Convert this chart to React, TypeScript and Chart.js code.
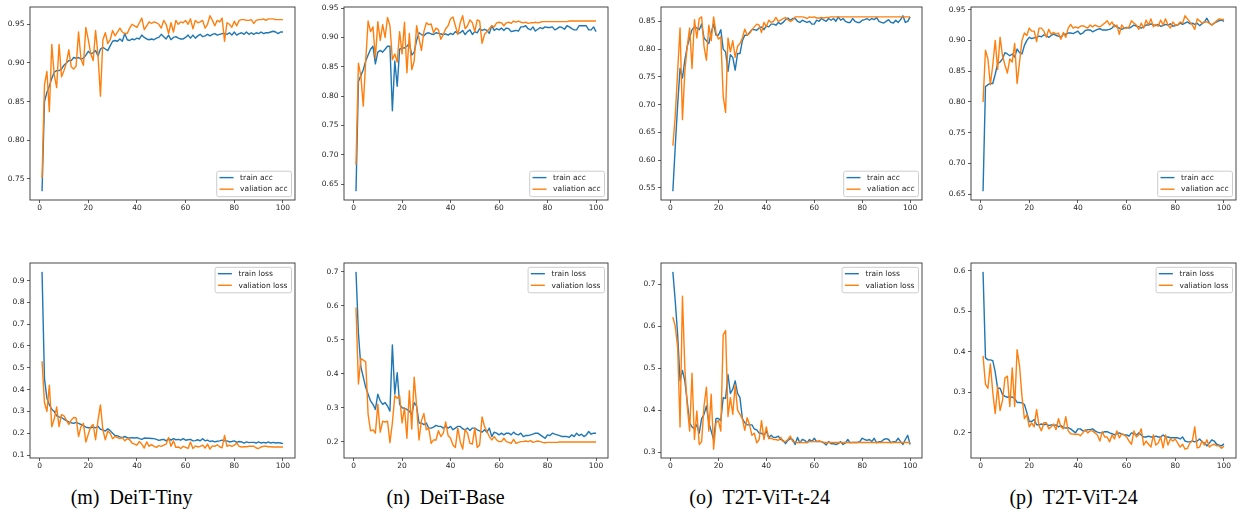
import React, { useEffect, useRef } from "react";
import { Chart, registerables } from "chart.js";

Chart.register(...registerables);

// ---------------- DATA ----------------
const epochs: number[] = Array.from({ length: 100 }, (_, i) => i + 1);

const trainAccLabel = "train acc";
const valAccLabel = "valiation acc";
const trainLossLabel = "train loss";
const valLossLabel = "valiation loss";

const captionTags = ["(m)", "(n)", "(o)", "(p)"];
const captionNames = ["DeiT-Tiny", "DeiT-Base", "T2T-ViT-t-24", "T2T-ViT-24"];

// (m) DeiT-Tiny
const tinyTrainAcc = [
  0.734, 0.850, 0.862, 0.870, 0.880, 0.888, 0.890, 0.890, 0.892, 0.897,
  0.900, 0.903, 0.903, 0.907, 0.906, 0.907, 0.905, 0.906, 0.910, 0.915,
  0.912, 0.913, 0.916, 0.909, 0.918, 0.920, 0.918, 0.916, 0.922, 0.928,
  0.929, 0.928, 0.931, 0.928, 0.938, 0.930, 0.929, 0.931, 0.930, 0.932,
  0.931, 0.936, 0.933, 0.931, 0.930, 0.931, 0.930, 0.932, 0.933, 0.937,
  0.934, 0.931, 0.936, 0.930, 0.933, 0.934, 0.932, 0.931, 0.931, 0.933,
  0.936, 0.932, 0.936, 0.932, 0.935, 0.937, 0.934, 0.935, 0.937, 0.935,
  0.937, 0.938, 0.936, 0.937, 0.938, 0.938, 0.937, 0.939, 0.936, 0.940,
  0.936, 0.938, 0.939, 0.937, 0.940, 0.937, 0.939, 0.937, 0.939, 0.938,
  0.940, 0.938, 0.939, 0.939, 0.940, 0.941, 0.940, 0.938, 0.940, 0.940,
];
const tinyValAcc = [
  0.751, 0.872, 0.889, 0.837, 0.924, 0.885, 0.868, 0.924, 0.882, 0.890,
  0.900, 0.917, 0.895, 0.892, 0.896, 0.940, 0.905, 0.897, 0.946, 0.930,
  0.912, 0.903, 0.942, 0.910, 0.857, 0.930, 0.939, 0.925, 0.930, 0.942,
  0.935, 0.940, 0.945, 0.940, 0.938, 0.938, 0.945, 0.950, 0.948, 0.946,
  0.952, 0.958, 0.943, 0.948, 0.953, 0.951, 0.953, 0.952, 0.950, 0.945,
  0.955, 0.950, 0.938, 0.952, 0.940, 0.955, 0.950, 0.953, 0.952, 0.955,
  0.950, 0.957, 0.944, 0.955, 0.952, 0.953, 0.955, 0.945, 0.950, 0.961,
  0.955, 0.948, 0.955, 0.953, 0.958, 0.928, 0.952, 0.950, 0.946, 0.954,
  0.948, 0.955, 0.956, 0.956, 0.955, 0.955, 0.956, 0.951, 0.955, 0.956,
  0.956, 0.957, 0.955, 0.957, 0.957, 0.957, 0.956, 0.956, 0.956, 0.956,
];
const tinyTrainLoss = [
  0.940, 0.450, 0.360, 0.330, 0.310, 0.300, 0.280, 0.275, 0.272, 0.265,
  0.258, 0.252, 0.248, 0.245, 0.250, 0.245, 0.240, 0.235, 0.228, 0.225,
  0.225, 0.228, 0.225, 0.232, 0.218, 0.215, 0.210, 0.220, 0.212, 0.200,
  0.190, 0.188, 0.183, 0.180, 0.185, 0.180, 0.178, 0.180, 0.178, 0.180,
  0.175, 0.172, 0.178, 0.177, 0.177, 0.176, 0.175, 0.172, 0.167, 0.170,
  0.172, 0.165, 0.175, 0.168, 0.175, 0.170, 0.172, 0.168, 0.175, 0.168,
  0.170, 0.172, 0.165, 0.166, 0.170, 0.165, 0.175, 0.165, 0.168, 0.162,
  0.165, 0.160, 0.163, 0.165, 0.168, 0.165, 0.165, 0.160, 0.162, 0.165,
  0.158, 0.162, 0.160, 0.155, 0.160, 0.157, 0.158, 0.158, 0.155, 0.160,
  0.155, 0.158, 0.155, 0.160, 0.155, 0.158, 0.155, 0.157, 0.155, 0.152,
];
const tinyValLoss = [
  0.530, 0.340, 0.300, 0.420, 0.230, 0.265, 0.320, 0.230, 0.285, 0.280,
  0.260, 0.240, 0.260, 0.272, 0.270, 0.185, 0.230, 0.245, 0.160, 0.195,
  0.230, 0.240, 0.170, 0.260, 0.330, 0.215, 0.170, 0.210, 0.200, 0.175,
  0.185, 0.180, 0.175, 0.180, 0.165, 0.175, 0.170, 0.155, 0.150, 0.145,
  0.162, 0.150, 0.132, 0.160, 0.140, 0.148, 0.140, 0.135, 0.143, 0.140,
  0.145, 0.150, 0.180, 0.140, 0.165, 0.135, 0.137, 0.130, 0.140, 0.135,
  0.130, 0.160, 0.130, 0.142, 0.137, 0.140, 0.145, 0.132, 0.150, 0.127,
  0.142, 0.140, 0.147, 0.138, 0.133, 0.190, 0.140, 0.145, 0.140, 0.145,
  0.155, 0.140, 0.137, 0.138, 0.138, 0.140, 0.140, 0.140, 0.132, 0.130,
  0.137, 0.140, 0.140, 0.138, 0.138, 0.137, 0.137, 0.137, 0.137, 0.137,
];

// (n) DeiT-Base
const baseTrainAcc = [
  0.638, 0.825, 0.835, 0.845, 0.860, 0.870, 0.880, 0.885, 0.855, 0.875,
  0.878, 0.875, 0.880, 0.885, 0.885, 0.775, 0.860, 0.817, 0.880, 0.882,
  0.882, 0.885, 0.890, 0.870, 0.875, 0.895, 0.908, 0.905, 0.903, 0.907,
  0.908, 0.906, 0.905, 0.908, 0.907, 0.906, 0.905, 0.906, 0.904, 0.907,
  0.905, 0.910, 0.907, 0.908, 0.912, 0.905, 0.910, 0.913, 0.905, 0.910,
  0.908, 0.915, 0.912, 0.914, 0.912, 0.907, 0.920, 0.912, 0.915, 0.913,
  0.916, 0.912, 0.916, 0.915, 0.910, 0.911, 0.912, 0.911, 0.918, 0.918,
  0.920, 0.915, 0.913, 0.918, 0.911, 0.914, 0.917, 0.915, 0.918, 0.917,
  0.917, 0.918, 0.913, 0.915, 0.918, 0.917, 0.914, 0.920, 0.918, 0.915,
  0.913, 0.913, 0.920, 0.920, 0.920, 0.920, 0.913, 0.913, 0.918, 0.910,
];
const baseValAcc = [
  0.683, 0.856, 0.835, 0.783, 0.860, 0.928, 0.910, 0.918, 0.865, 0.927,
  0.895, 0.922, 0.900, 0.934, 0.920, 0.862, 0.872, 0.858, 0.910, 0.872,
  0.926, 0.840, 0.907, 0.845, 0.860, 0.920, 0.898, 0.878, 0.910, 0.925,
  0.922, 0.923, 0.908, 0.916, 0.913, 0.897, 0.905, 0.915, 0.920, 0.932,
  0.935, 0.920, 0.905, 0.925, 0.937, 0.915, 0.920, 0.930, 0.925, 0.910,
  0.930, 0.928, 0.890, 0.905, 0.910, 0.915, 0.920, 0.918, 0.925, 0.926,
  0.925, 0.920, 0.925, 0.926, 0.924, 0.928, 0.926, 0.928, 0.926, 0.925,
  0.926, 0.924, 0.925, 0.925, 0.926, 0.925, 0.926, 0.927, 0.927, 0.927,
  0.927, 0.927, 0.927, 0.927, 0.927, 0.927, 0.927, 0.927, 0.928, 0.928,
  0.928, 0.928, 0.928, 0.928, 0.928, 0.928, 0.928, 0.928, 0.928, 0.928,
];
const baseTrainLoss = [
  0.700, 0.520, 0.420, 0.390, 0.360, 0.340, 0.320, 0.310, 0.295, 0.340,
  0.320, 0.310, 0.315, 0.305, 0.290, 0.485, 0.340, 0.403, 0.310, 0.300,
  0.298, 0.295, 0.290, 0.280, 0.315, 0.305, 0.255, 0.255, 0.250, 0.255,
  0.240, 0.240, 0.243, 0.248, 0.245, 0.245, 0.240, 0.245, 0.240, 0.245,
  0.235, 0.240, 0.245, 0.245, 0.238, 0.235, 0.240, 0.233, 0.240, 0.240,
  0.235, 0.232, 0.228, 0.235, 0.228, 0.240, 0.215, 0.228, 0.225, 0.220,
  0.225, 0.220, 0.225, 0.225, 0.220, 0.228, 0.222, 0.220, 0.225, 0.215,
  0.218, 0.218, 0.220, 0.222, 0.225, 0.225, 0.220, 0.215, 0.210, 0.220,
  0.218, 0.225, 0.222, 0.220, 0.218, 0.215, 0.215, 0.215, 0.213, 0.220,
  0.215, 0.225, 0.218, 0.222, 0.215, 0.220, 0.230, 0.222, 0.225, 0.225,
];
const baseValLoss = [
  0.595, 0.370, 0.445, 0.440, 0.435, 0.280, 0.232, 0.235, 0.225, 0.310,
  0.228, 0.260, 0.258, 0.260, 0.197, 0.255, 0.335, 0.328, 0.335, 0.255,
  0.300, 0.210, 0.350, 0.237, 0.390, 0.305, 0.205, 0.262, 0.283, 0.235,
  0.240, 0.195, 0.205, 0.205, 0.232, 0.215, 0.225, 0.258, 0.218, 0.210,
  0.190, 0.183, 0.240, 0.200, 0.178, 0.235, 0.225, 0.195, 0.193, 0.240,
  0.183, 0.190, 0.273, 0.245, 0.230, 0.215, 0.205, 0.215, 0.205, 0.200,
  0.200, 0.210, 0.200, 0.198, 0.195, 0.207, 0.195, 0.198, 0.200, 0.200,
  0.202, 0.200, 0.203, 0.198, 0.200, 0.202, 0.200, 0.198, 0.197, 0.198,
  0.198, 0.198, 0.198, 0.198, 0.199, 0.199, 0.199, 0.199, 0.199, 0.199,
  0.199, 0.199, 0.199, 0.199, 0.199, 0.199, 0.199, 0.199, 0.199, 0.199,
];

// (o) T2T-ViT-t-24
const t2ttTrainAcc = [
  0.544, 0.625, 0.700, 0.765, 0.748, 0.780, 0.805, 0.820, 0.835, 0.840,
  0.838, 0.835, 0.845, 0.820, 0.815, 0.810, 0.830, 0.845, 0.825, 0.825,
  0.835, 0.800, 0.795, 0.760, 0.790, 0.785, 0.762, 0.792, 0.792, 0.815,
  0.825, 0.825, 0.830, 0.835, 0.835, 0.834, 0.838, 0.840, 0.835, 0.842,
  0.840, 0.845, 0.845, 0.843, 0.848, 0.845, 0.848, 0.853, 0.856, 0.852,
  0.855, 0.855, 0.850, 0.848, 0.852, 0.850, 0.848, 0.850, 0.845, 0.845,
  0.852, 0.850, 0.855, 0.852, 0.850, 0.855, 0.852, 0.855, 0.850, 0.858,
  0.852, 0.855, 0.850, 0.848, 0.848, 0.855, 0.850, 0.848, 0.848, 0.852,
  0.853, 0.855, 0.852, 0.855, 0.853, 0.857, 0.850, 0.848, 0.847, 0.850,
  0.853, 0.848, 0.847, 0.852, 0.848, 0.853, 0.860, 0.848, 0.850, 0.858,
];
const t2ttValAcc = [
  0.626, 0.680, 0.760, 0.838, 0.673, 0.760, 0.805, 0.838, 0.765, 0.853,
  0.820, 0.855, 0.858, 0.805, 0.780, 0.843, 0.815, 0.858, 0.830, 0.818,
  0.822, 0.715, 0.686, 0.820, 0.795, 0.815, 0.785, 0.805, 0.810, 0.820,
  0.836, 0.825, 0.828, 0.835, 0.840, 0.845, 0.843, 0.830, 0.848, 0.840,
  0.852, 0.848, 0.850, 0.857, 0.850, 0.852, 0.855, 0.857, 0.853, 0.850,
  0.852, 0.858, 0.858, 0.858, 0.858, 0.857, 0.855, 0.858, 0.857, 0.858,
  0.856, 0.856, 0.857, 0.856, 0.857, 0.857, 0.858, 0.858, 0.858, 0.858,
  0.858, 0.858, 0.858, 0.858, 0.858, 0.858, 0.858, 0.858, 0.858, 0.858,
  0.858, 0.858, 0.858, 0.858, 0.858, 0.858, 0.858, 0.858, 0.858, 0.858,
  0.858, 0.858, 0.858, 0.858, 0.858, 0.858, 0.858, 0.858, 0.858, 0.858,
];
const t2ttTrainLoss = [
  0.730, 0.660, 0.580, 0.470, 0.495, 0.470, 0.420, 0.370, 0.360, 0.355,
  0.365, 0.345, 0.380, 0.390, 0.410, 0.370, 0.350, 0.330, 0.380, 0.380,
  0.375, 0.430, 0.428, 0.485, 0.440, 0.450, 0.470, 0.440, 0.430, 0.380,
  0.370, 0.365, 0.365, 0.365, 0.355, 0.353, 0.345, 0.345, 0.340, 0.350,
  0.335, 0.340, 0.335, 0.335, 0.338, 0.330, 0.328, 0.320, 0.328, 0.332,
  0.330, 0.318, 0.335, 0.322, 0.330, 0.328, 0.322, 0.330, 0.325, 0.333,
  0.325, 0.325, 0.325, 0.322, 0.317, 0.325, 0.320, 0.320, 0.318, 0.320,
  0.325, 0.318, 0.322, 0.330, 0.322, 0.323, 0.323, 0.323, 0.325, 0.333,
  0.330, 0.328, 0.330, 0.325, 0.333, 0.322, 0.325, 0.325, 0.330, 0.332,
  0.330, 0.322, 0.325, 0.325, 0.333, 0.325, 0.318, 0.330, 0.340, 0.318,
];
const t2ttValLoss = [
  0.622, 0.600, 0.550, 0.360, 0.672, 0.500, 0.410, 0.350, 0.488, 0.330,
  0.398, 0.318, 0.325, 0.410, 0.455, 0.350, 0.438, 0.307, 0.370, 0.375,
  0.350, 0.580, 0.590, 0.385, 0.430, 0.390, 0.460, 0.400, 0.390, 0.380,
  0.352, 0.382, 0.365, 0.340, 0.345, 0.322, 0.330, 0.375, 0.330, 0.360,
  0.332, 0.333, 0.330, 0.330, 0.328, 0.335, 0.325, 0.325, 0.330, 0.338,
  0.325, 0.325, 0.322, 0.325, 0.322, 0.323, 0.323, 0.325, 0.325, 0.325,
  0.325, 0.327, 0.325, 0.323, 0.323, 0.323, 0.323, 0.323, 0.323, 0.323,
  0.323, 0.323, 0.323, 0.323, 0.323, 0.323, 0.323, 0.323, 0.323, 0.323,
  0.323, 0.323, 0.323, 0.323, 0.323, 0.323, 0.323, 0.323, 0.323, 0.323,
  0.323, 0.323, 0.323, 0.323, 0.323, 0.323, 0.323, 0.323, 0.323, 0.323,
];

// (p) T2T-ViT-24
const t2tTrainAcc = [
  0.655, 0.825, 0.828, 0.830, 0.830, 0.845, 0.862, 0.865, 0.870, 0.880,
  0.878, 0.875, 0.878, 0.873, 0.886, 0.880, 0.878, 0.892, 0.900, 0.905,
  0.903, 0.904, 0.905, 0.907, 0.906, 0.909, 0.908, 0.905, 0.908, 0.910,
  0.908, 0.907, 0.905, 0.910, 0.910, 0.912, 0.912, 0.911, 0.913, 0.915,
  0.910, 0.912, 0.916, 0.917, 0.917, 0.914, 0.916, 0.918, 0.919, 0.917,
  0.917, 0.917, 0.918, 0.920, 0.925, 0.922, 0.920, 0.918, 0.920, 0.921,
  0.920, 0.922, 0.925, 0.923, 0.922, 0.920, 0.922, 0.925, 0.925, 0.927,
  0.925, 0.924, 0.926, 0.923, 0.924, 0.926, 0.925, 0.927, 0.923, 0.924,
  0.925, 0.928, 0.926, 0.928, 0.930, 0.927, 0.928, 0.926, 0.928, 0.924,
  0.927, 0.930, 0.936, 0.928, 0.925, 0.928, 0.930, 0.932, 0.933, 0.931,
];
const t2tValAcc = [
  0.800, 0.884, 0.870, 0.828, 0.860, 0.900, 0.853, 0.905, 0.875, 0.860,
  0.847, 0.870, 0.865, 0.895, 0.830, 0.865, 0.900, 0.912, 0.908, 0.920,
  0.915, 0.915, 0.898, 0.920, 0.920, 0.915, 0.905, 0.918, 0.910, 0.913,
  0.910, 0.912, 0.902, 0.913, 0.905, 0.920, 0.926, 0.920, 0.922, 0.920,
  0.923, 0.924, 0.922, 0.920, 0.925, 0.922, 0.925, 0.923, 0.922, 0.925,
  0.928, 0.932, 0.925, 0.930, 0.922, 0.925, 0.910, 0.925, 0.920, 0.920,
  0.922, 0.932, 0.928, 0.925, 0.918, 0.928, 0.920, 0.933, 0.925, 0.935,
  0.922, 0.926, 0.923, 0.933, 0.925, 0.935, 0.925, 0.920, 0.930, 0.925,
  0.925, 0.930, 0.928, 0.940, 0.935, 0.930, 0.925, 0.918, 0.935, 0.932,
  0.928, 0.930, 0.930, 0.928, 0.925, 0.928, 0.932, 0.935, 0.934, 0.934,
];
const t2tTrainLoss = [
  0.597, 0.385, 0.380, 0.380, 0.378, 0.350, 0.310, 0.310, 0.295, 0.290,
  0.288, 0.290, 0.288, 0.285, 0.275, 0.275, 0.274, 0.270, 0.250, 0.228,
  0.228, 0.233, 0.220, 0.220, 0.222, 0.220, 0.222, 0.218, 0.220, 0.218,
  0.220, 0.215, 0.218, 0.213, 0.212, 0.213, 0.210, 0.205, 0.200, 0.210,
  0.210, 0.205, 0.205, 0.208, 0.208, 0.210, 0.205, 0.202, 0.200, 0.200,
  0.203, 0.203, 0.200, 0.198, 0.195, 0.198, 0.200, 0.197, 0.195, 0.195,
  0.192, 0.200, 0.198, 0.195, 0.200, 0.195, 0.190, 0.190, 0.192, 0.190,
  0.190, 0.192, 0.190, 0.190, 0.195, 0.190, 0.190, 0.188, 0.188, 0.188,
  0.188, 0.185, 0.190, 0.180, 0.178, 0.178, 0.180, 0.178, 0.180, 0.185,
  0.178, 0.175, 0.168, 0.175, 0.183, 0.180, 0.172, 0.170, 0.168, 0.173,
];
const t2tValLoss = [
  0.390, 0.320, 0.310, 0.370, 0.300, 0.248, 0.315, 0.255, 0.280, 0.335,
  0.340, 0.265, 0.360, 0.265, 0.405, 0.365, 0.290, 0.235, 0.245, 0.215,
  0.225, 0.215, 0.258, 0.218, 0.205, 0.225, 0.225, 0.210, 0.215, 0.222,
  0.208, 0.235, 0.215, 0.210, 0.240, 0.205, 0.198, 0.197, 0.196, 0.197,
  0.193, 0.200, 0.208, 0.200, 0.205, 0.205, 0.200, 0.195, 0.180, 0.203,
  0.190, 0.190, 0.178, 0.195, 0.185, 0.205, 0.188, 0.198, 0.195, 0.190,
  0.180, 0.172, 0.205, 0.190, 0.195, 0.210, 0.170, 0.180, 0.172, 0.165,
  0.195, 0.170, 0.175, 0.190, 0.163, 0.195, 0.170, 0.185, 0.180, 0.185,
  0.175, 0.165, 0.172, 0.160, 0.162, 0.175, 0.180, 0.215, 0.163, 0.165,
  0.180, 0.170, 0.183, 0.165, 0.170, 0.172, 0.168, 0.168, 0.162, 0.168,
];

// ---------------- STYLE / LAYOUT ----------------
const BLUE = "#1f77b4";
const ORANGE = "#ff7f0e";
const TEXT = "#262626";
const FONT_FAMILY = "'DejaVu Sans', sans-serif";
const FONT_SIZE = 7.5;
const LINE_W = 1.4;

const PAD_L = 30;
const PAD_T = 4;
const PAD_R = 4;
const PAD_B = 18;

const colBoxes = [
  { left: 30, width: 265 },
  { left: 344, width: 264 },
  { left: 661, width: 261 },
  { left: 971, width: 265 },
];
const rowBoxes = [
  { top: 4, height: 196 },
  { top: 260, height: 198 },
];
const captionCenters = [131.6, 445.6, 759.6, 1073.6];

type Kind = "acc" | "loss";

const framePlugin = {
  id: "frameBox",
  afterDatasetsDraw(chart: any) {
    const a = chart.chartArea;
    const ctx = chart.ctx;
    ctx.save();
    ctx.strokeStyle = "#333333";
    ctx.lineWidth = 0.9;
    ctx.strokeRect(a.left, a.top, a.right - a.left, a.bottom - a.top);
    ctx.restore();
  },
};

const legendPlugin = {
  id: "boxLegend",
  afterDraw(chart: any, _args: any, opts: any) {
    const a = chart.chartArea;
    const ctx = chart.ctx;
    const items = chart.data.datasets.map((d: any) => ({ label: d.label, color: d.borderColor }));
    ctx.save();
    ctx.font = `${FONT_SIZE}px ${FONT_FAMILY}`;
    const textW = Math.max(...items.map((it: any) => ctx.measureText(it.label).width));
    const bw = 23.4 + textW + 4;
    const bh = 25.5;
    const bx = a.right - 3.5 - bw;
    const by = opts.corner === "lower" ? a.bottom - 3.3 - bh : a.top + 4.3;
    const r = 2;
    ctx.beginPath();
    ctx.moveTo(bx + r, by);
    ctx.lineTo(bx + bw - r, by);
    ctx.quadraticCurveTo(bx + bw, by, bx + bw, by + r);
    ctx.lineTo(bx + bw, by + bh - r);
    ctx.quadraticCurveTo(bx + bw, by + bh, bx + bw - r, by + bh);
    ctx.lineTo(bx + r, by + bh);
    ctx.quadraticCurveTo(bx, by + bh, bx, by + bh - r);
    ctx.lineTo(bx, by + r);
    ctx.quadraticCurveTo(bx, by, bx + r, by);
    ctx.closePath();
    ctx.fillStyle = "rgba(255,255,255,0.8)";
    ctx.fill();
    ctx.strokeStyle = "#cccccc";
    ctx.lineWidth = 1;
    ctx.stroke();
    items.forEach((it: any, k: number) => {
      const y = by + 6.4 + k * 11.6;
      ctx.beginPath();
      ctx.moveTo(bx + 2.8, y);
      ctx.lineTo(bx + 16.8, y);
      ctx.strokeStyle = it.color;
      ctx.lineWidth = LINE_W;
      ctx.stroke();
      ctx.fillStyle = TEXT;
      ctx.textBaseline = "middle";
      ctx.textAlign = "left";
      ctx.fillText(it.label, bx + 23.4, y + 0.3);
    });
    ctx.restore();
  },
};

function Panel(props: {
  col: number;
  row: number;
  train: number[];
  val: number[];
  kind: Kind;
}) {
  const ref = useRef<HTMLCanvasElement | null>(null);
  const { col, row, train, val, kind } = props;
  const box = { ...colBoxes[col], ...rowBoxes[row] };
  const cw = box.width + PAD_L + PAD_R;
  const ch = box.height + PAD_T + PAD_B;

  useEffect(() => {
    if (!ref.current) return;
    const all = train.concat(val);
    const lo = Math.min(...all);
    const hi = Math.max(...all);
    const m = (hi - lo) * 0.05;
    const x0 = epochs[0];
    const x1 = epochs[epochs.length - 1];
    const xm = (x1 - x0) * 0.05;
    const tickFont = { family: FONT_FAMILY, size: FONT_SIZE };
    const chart = new Chart(ref.current, {
      type: "line",
      data: {
        datasets: [
          {
            label: kind === "acc" ? trainAccLabel : trainLossLabel,
            data: epochs.map((x, i) => ({ x, y: train[i] })),
            borderColor: BLUE,
            backgroundColor: BLUE,
            borderWidth: LINE_W,
            pointRadius: 0,
            tension: 0,
            borderJoinStyle: "round",
            order: 1,
          },
          {
            label: kind === "acc" ? valAccLabel : valLossLabel,
            data: epochs.map((x, i) => ({ x, y: val[i] })),
            borderColor: ORANGE,
            backgroundColor: ORANGE,
            borderWidth: LINE_W,
            pointRadius: 0,
            tension: 0,
            borderJoinStyle: "round",
            order: 0,
          },
        ],
      },
      options: {
        responsive: false,
        animation: false,
        devicePixelRatio: 1,
        events: [],
        layout: { padding: { top: PAD_T, right: PAD_R, left: 0, bottom: 0 } },
        plugins: {
          legend: { display: false },
          tooltip: { enabled: false },
          title: { display: false },
          boxLegend: { corner: kind === "acc" ? "lower" : "upper" },
        } as any,
        scales: {
          x: {
            type: "linear",
            min: x0 - xm,
            max: x1 + xm,
            afterFit: (s: any) => {
              s.height = PAD_B;
            },
            border: { display: false },
            grid: {
              drawOnChartArea: false,
              drawTicks: true,
              tickLength: 3,
              color: "#333333",
              lineWidth: 0.8,
            },
            ticks: {
              stepSize: 20,
              includeBounds: false,
              autoSkip: false,
              maxRotation: 0,
              padding: 1,
              color: TEXT,
              font: tickFont,
              callback: (v: any) => String(Math.round(Number(v))),
            },
          },
          y: {
            type: "linear",
            min: lo - m,
            max: hi + m,
            afterFit: (s: any) => {
              s.width = PAD_L;
            },
            border: { display: false },
            grid: {
              drawOnChartArea: false,
              drawTicks: true,
              tickLength: 3,
              color: "#333333",
              lineWidth: 0.8,
            },
            ticks: {
              stepSize: kind === "acc" ? 0.05 : 0.1,
              includeBounds: false,
              autoSkip: false,
              padding: 2.5,
              color: TEXT,
              font: tickFont,
              callback: (v: any) => Number(v).toFixed(kind === "acc" ? 2 : 1),
            },
          },
        },
      } as any,
      plugins: [framePlugin, legendPlugin],
    });
    return () => chart.destroy();
  }, []);

  return (
    <canvas
      ref={ref}
      width={cw}
      height={ch}
      style={{
        position: "absolute",
        left: box.left - PAD_L,
        top: box.top - PAD_T,
        width: cw,
        height: ch,
      }}
    />
  );
}

const accSets = [
  [tinyTrainAcc, tinyValAcc],
  [baseTrainAcc, baseValAcc],
  [t2ttTrainAcc, t2ttValAcc],
  [t2tTrainAcc, t2tValAcc],
];
const lossSets = [
  [tinyTrainLoss, tinyValLoss],
  [baseTrainLoss, baseValLoss],
  [t2ttTrainLoss, t2ttValLoss],
  [t2tTrainLoss, t2tValLoss],
];

export default function App() {
  return (
    <div
      style={{
        position: "absolute",
        left: 0,
        top: 0,
        width: 1242,
        height: 515,
        background: "#ffffff",
        overflow: "hidden",
      }}
    >
      {accSets.map((s, i) => (
        <Panel key={"a" + i} col={i} row={0} train={s[0]} val={s[1]} kind="acc" />
      ))}
      {lossSets.map((s, i) => (
        <Panel key={"l" + i} col={i} row={1} train={s[0]} val={s[1]} kind="loss" />
      ))}
      {captionTags.map((tag, i) => (
        <div
          key={"c" + i}
          style={{
            position: "absolute",
            left: captionCenters[i] - 150,
            width: 300,
            top: 487,
            textAlign: "center",
            fontFamily: "'Liberation Serif', 'Times New Roman', serif",
            fontSize: 20,
            lineHeight: "20px",
            color: "#000",
            whiteSpace: "nowrap",
          }}
        >
          <span>{tag}</span>
          <span style={{ marginLeft: 10 }}>{captionNames[i]}</span>
        </div>
      ))}
    </div>
  );
}
